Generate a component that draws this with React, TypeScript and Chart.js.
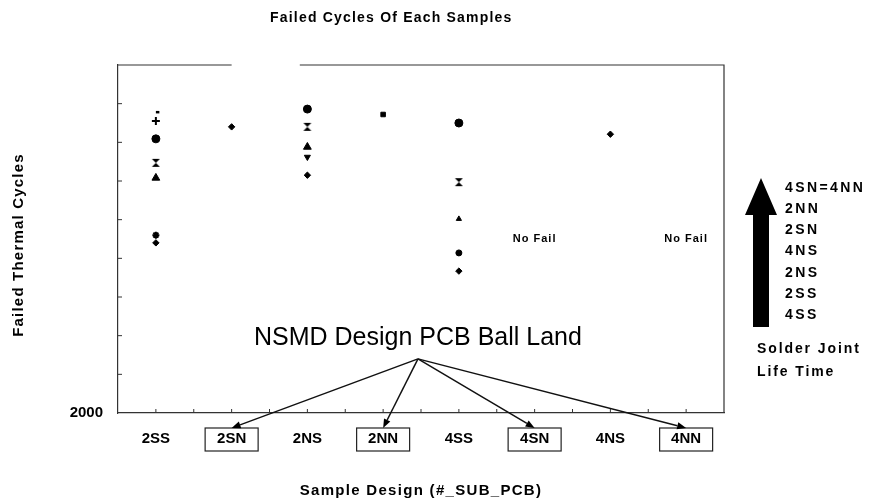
import React, { useEffect, useRef } from "react";
import { Chart, registerables } from "chart.js";

Chart.register(...registerables);

const FONT = '"Liberation Sans", Arial, sans-serif';

// ---------- data ----------
const categories = ["2SS", "2SN", "2NS", "2NN", "4SS", "4SN", "4NS", "4NN"];
const boxedCategories = ["2SN", "2NN", "4SN", "4NN"];
const noFailCategories = ["4SN", "4NN"];

const yMin = 2000;
const yMax = 3800;
const yStep = 200;
const yTickLabels = ["2000"];

const cycles2SS = [3556, 3510, 3418, 3294, 3216, 2920, 2880];
const markers2SS = ["dash", "cross", "circle", "hourglass", "triangle", "star", "rectRot"];
const cycles2SN = [3480];
const markers2SN = ["rectRot"];
const cycles2NS = [3572, 3480, 3376, 3324, 3230];
const markers2NS = ["circle", "hourglass", "triangle", "invTriangle", "rectRot"];
const cycles2NN = [3544];
const markers2NN = ["rect"];
const cycles4SS = [3500, 3194, 3004, 2828, 2734];
const markers4SS = ["circle", "hourglass", "smallTriangle", "smallCircle", "rectRot"];
const cycles4SN: number[] = [];
const markers4SN: string[] = [];
const cycles4NS = [3442];
const markers4NS = ["rectRot"];
const cycles4NN: number[] = [];
const markers4NN: string[] = [];

const seriesCycles = [cycles2SS, cycles2SN, cycles2NS, cycles2NN, cycles4SS, cycles4SN, cycles4NS, cycles4NN];
const seriesMarkers = [markers2SS, markers2SN, markers2NS, markers2NN, markers4SS, markers4SN, markers4NS, markers4NN];

const lifeRanking = ["4SN=4NN", "2NN", "2SN", "4NS", "2NS", "2SS", "4SS"];
const lifeCaption = ["Solder Joint", "Life Time"];
const chartTitle = "Failed Cycles Of Each Samples";
const xTitle = "Sample Design (#_SUB_PCB)";
const yTitle = "Failed Thermal Cycles";
const noteText = "NSMD Design PCB Ball Land";
const noFailText = "No Fail";

// annotation anchors in data units
const noteAnchorX = 4.46;
const noteTextY = 2385;
const noteApexY = 2280;
const noFailY = 2900;
const topGapFrom = 2.0;
const topGapTo = 2.9;

function makeHourglass(): HTMLCanvasElement {
  const c = document.createElement("canvas");
  c.width = 10;
  c.height = 10;
  const g = c.getContext("2d")!;
  g.fillStyle = "#000";
  g.beginPath();
  g.moveTo(1, 1);
  g.lineTo(9, 1);
  g.lineTo(5, 5);
  g.lineTo(9, 9);
  g.lineTo(1, 9);
  g.lineTo(5, 5);
  g.closePath();
  g.fill();
  return c;
}

function markerProps(name: string, hourglass: HTMLCanvasElement) {
  switch (name) {
    case "dash":
      return { style: "dash", r: 3.5, rot: 0, bw: 2.5 };
    case "cross":
      return { style: "cross", r: 4, rot: 0, bw: 2 };
    case "circle":
      return { style: "circle", r: 4, rot: 0, bw: 1 };
    case "smallCircle":
      return { style: "circle", r: 3, rot: 0, bw: 1 };
    case "hourglass":
      return { style: hourglass, r: 5, rot: 0, bw: 1 };
    case "triangle":
      return { style: "triangle", r: 4.5, rot: 0, bw: 1 };
    case "smallTriangle":
      return { style: "triangle", r: 3, rot: 0, bw: 1 };
    case "invTriangle":
      return { style: "triangle", r: 3.5, rot: 180, bw: 1 };
    case "star":
      return { style: "star", r: 3.5, rot: 0, bw: 2 };
    case "rect":
      return { style: "rect", r: 3.2, rot: 0, bw: 1 };
    default:
      return { style: "rectRot", r: 3.2, rot: 0, bw: 1 };
  }
}

function spaced(ctx: CanvasRenderingContext2D, px: number) {
  try {
    (ctx as any).letterSpacing = px + "px";
  } catch (e) {}
}

const decorPlugin = {
  id: "decor",
  afterDraw(chart: any) {
    const { ctx, chartArea, scales } = chart;
    const xs = scales.x;
    const ys = scales.y;
    const { left, right, top, bottom } = chartArea;
    ctx.save();

    // frame top (with gap) & right
    ctx.strokeStyle = "#333";
    ctx.lineWidth = 1.2;
    ctx.beginPath();
    ctx.moveTo(left, top);
    ctx.lineTo(xs.getPixelForValue(topGapFrom), top);
    ctx.moveTo(xs.getPixelForValue(topGapTo), top);
    ctx.lineTo(right, top);
    ctx.lineTo(right, bottom);
    ctx.stroke();

    // inward ticks
    ctx.lineWidth = 1;
    ctx.beginPath();
    xs.ticks.forEach((t: any) => {
      const px = xs.getPixelForValue(t.value);
      if (px <= left + 1 || px >= right - 1) return;
      ctx.moveTo(px, bottom);
      ctx.lineTo(px, bottom - 4);
    });
    ys.ticks.forEach((t: any) => {
      const py = ys.getPixelForValue(t.value);
      if (py >= bottom - 1 || py <= top + 1) return;
      ctx.moveTo(left, py);
      ctx.lineTo(left + 4, py);
    });
    ctx.stroke();

    ctx.fillStyle = "#000";
    ctx.textBaseline = "middle";

    // title
    ctx.textAlign = "left";
    ctx.font = `bold 14px ${FONT}`;
    spaced(ctx, 1.2);
    ctx.fillText(chartTitle, left + 152, 10);

    // x axis title
    ctx.textAlign = "center";
    ctx.font = `bold 15px ${FONT}`;
    spaced(ctx, 1.3);
    ctx.fillText(xTitle, (left + right) / 2, bottom + 78);

    // y axis title
    ctx.save();
    ctx.translate(11, (top + bottom) / 2 + 6);
    ctx.rotate(-Math.PI / 2);
    ctx.font = `bold 15px ${FONT}`;
    spaced(ctx, 1.2);
    ctx.fillText(yTitle, 0, 0);
    ctx.restore();

    // No Fail
    ctx.font = `bold 11px ${FONT}`;
    spaced(ctx, 1);
    noFailCategories.forEach((c) => {
      const px = xs.getPixelForValue(categories.indexOf(c) + 1);
      ctx.fillText(noFailText, px, ys.getPixelForValue(noFailY));
    });

    // boxes around labels
    ctx.strokeStyle = "#222";
    ctx.lineWidth = 1.2;
    boxedCategories.forEach((c) => {
      const px = xs.getPixelForValue(categories.indexOf(c) + 1);
      ctx.strokeRect(px - 26.5, bottom + 15, 53, 23);
    });

    // note text and arrows
    spaced(ctx, 0);
    ctx.font = `25px ${FONT}`;
    const ax = xs.getPixelForValue(noteAnchorX);
    ctx.fillText(noteText, ax, ys.getPixelForValue(noteTextY));
    const ay = ys.getPixelForValue(noteApexY);
    ctx.lineWidth = 1.5;
    ctx.strokeStyle = "#111";
    boxedCategories.forEach((c) => {
      const tx = xs.getPixelForValue(categories.indexOf(c) + 1);
      const ty = bottom + 15;
      const ang = Math.atan2(ty - ay, tx - ax);
      const hl = 9;
      const hw = 3.5;
      const bx = tx - hl * Math.cos(ang);
      const by = ty - hl * Math.sin(ang);
      ctx.beginPath();
      ctx.moveTo(ax, ay);
      ctx.lineTo(bx, by);
      ctx.stroke();
      ctx.beginPath();
      ctx.moveTo(tx, ty);
      ctx.lineTo(bx + hw * Math.sin(ang), by - hw * Math.cos(ang));
      ctx.lineTo(bx - hw * Math.sin(ang), by + hw * Math.cos(ang));
      ctx.closePath();
      ctx.fill();
    });

    // right side: big arrow
    const cx = right + 37;
    const tipY = top + 113;
    const headY = top + 150;
    const baseY = top + 262;
    ctx.beginPath();
    ctx.moveTo(cx, tipY);
    ctx.lineTo(cx + 16, headY);
    ctx.lineTo(cx + 8, headY);
    ctx.lineTo(cx + 8, baseY);
    ctx.lineTo(cx - 8, baseY);
    ctx.lineTo(cx - 8, headY);
    ctx.lineTo(cx - 16, headY);
    ctx.closePath();
    ctx.fill();

    ctx.textAlign = "left";
    ctx.font = `bold 14px ${FONT}`;
    spaced(ctx, 2.4);
    lifeRanking.forEach((s, i) => {
      ctx.fillText(s, right + 61, top + 123 + i * 21.2);
    });
    spaced(ctx, 1.9);
    lifeCaption.forEach((s, i) => {
      ctx.fillText(s, right + 33, top + 284 + i * 23);
    });
    ctx.restore();
  },
};

export default function App() {
  const ref = useRef<HTMLCanvasElement>(null);
  useEffect(() => {
    if (!ref.current) return;
    const hourglass = makeHourglass();
    const datasets = categories.map((cat, i) => {
      const props = seriesMarkers[i].map((m) => markerProps(m, hourglass));
      return {
        label: cat,
        data: seriesCycles[i].map((v) => ({ x: i + 1, y: v })),
        pointStyle: props.map((p) => p.style),
        pointRadius: props.map((p) => p.r),
        pointRotation: props.map((p) => p.rot),
        pointBorderWidth: props.map((p) => p.bw),
        pointBackgroundColor: "#000",
        pointBorderColor: "#000",
        showLine: false,
      };
    });
    const chart = new Chart(ref.current, {
      type: "scatter",
      data: { datasets: datasets as any },
      options: {
        animation: false,
        responsive: false,
        layout: { padding: { top: 57, right: 141, left: 0, bottom: 0 } },
        plugins: { legend: { display: false }, tooltip: { enabled: false } },
        scales: {
          x: {
            type: "linear",
            min: 0.5,
            max: categories.length + 0.5,
            afterFit: (s: any) => {
              s.height = 91;
            },
            ticks: {
              stepSize: 0.5,
              autoSkip: false,
              padding: 17,
              color: "#000",
              font: { family: FONT, size: 15, weight: "bold" },
              callback: (v: any) => (Number.isInteger(v) ? categories[v - 1] : ""),
            },
            grid: { display: false, drawTicks: false },
            border: { display: true, color: "#333", width: 1.2 },
          },
          y: {
            type: "linear",
            min: yMin,
            max: yMax,
            afterFit: (s: any) => {
              s.width = 110;
            },
            ticks: {
              stepSize: yStep,
              padding: 15,
              color: "#000",
              font: { family: FONT, size: 15, weight: "bold" },
              callback: (v: any) => (yTickLabels.includes(String(v)) ? String(v) : ""),
            },
            grid: { display: false, drawTicks: false },
            border: { display: true, color: "#333", width: 1.2 },
          },
        },
      },
      plugins: [decorPlugin],
    });
    return () => chart.destroy();
  }, []);
  return <canvas ref={ref} width={857} height={496} style={{ display: "block" }} />;
}
